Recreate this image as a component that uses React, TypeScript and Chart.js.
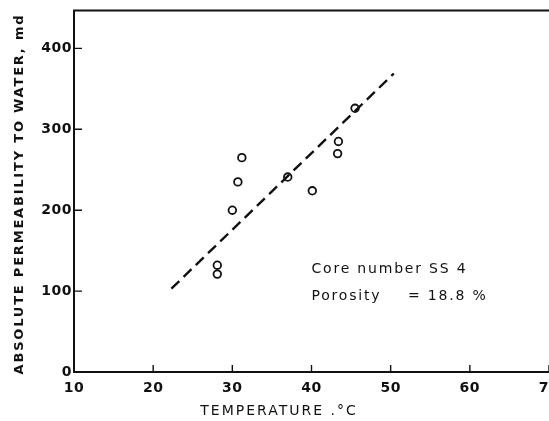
import React, { useEffect, useRef } from 'react';
import { Chart, registerables } from 'chart.js';

Chart.register(...registerables);

// Data
const temperature = [28.1, 28.1, 30.0, 30.7, 31.2, 37.0, 40.1, 43.3, 43.4, 45.5];
const permeability = [132, 121, 200, 235, 265, 241, 224, 270, 285, 326];
const fitTemperature = [22.3, 50.4];
const fitPermeability = [103, 369];
const xTicks = [10, 20, 30, 40, 50, 60, 70];
const yTicks = [0, 100, 200, 300, 400];
const xTitle = 'TEMPERATURE .°C';
const yTitle = 'ABSOLUTE PERMEABILITY TO WATER, md';
const noteCore = 'Core number SS 4';
const notePorosityLabel = 'Porosity';
const notePorosityValue = '= 18.8 %';

const INK = '#111111';
const FONT = '"DejaVu Sans", sans-serif';

const decorPlugin = {
  id: 'decor',
  beforeDraw(chart: any) {
    chart.ctx.letterSpacing = '0.5px';
  },
  afterDraw(chart: any) {
    const ctx = chart.ctx as CanvasRenderingContext2D & { letterSpacing: string };
    const { left, top, bottom } = chart.chartArea;
    const xs = chart.scales.x;
    const ys = chart.scales.y;
    const W = chart.width;
    ctx.save();
    ctx.strokeStyle = INK;
    ctx.lineCap = 'square';
    // frame (left, top, bottom)
    ctx.lineWidth = 2;
    ctx.beginPath();
    ctx.moveTo(W, top);
    ctx.lineTo(left, top);
    ctx.lineTo(left, bottom);
    ctx.lineTo(W, bottom);
    ctx.stroke();
    // inward tick marks
    ctx.lineWidth = 1.4;
    ctx.lineCap = 'butt';
    ctx.beginPath();
    xTicks.forEach((v) => {
      const px = xs.getPixelForValue(v);
      if (px - left < 2) return;
      ctx.moveTo(px, bottom);
      ctx.lineTo(px, bottom - 7);
    });
    yTicks.forEach((v) => {
      const py = ys.getPixelForValue(v);
      if (bottom - py < 2) return;
      ctx.moveTo(left, py);
      ctx.lineTo(left + 8, py);
    });
    ctx.stroke();

    ctx.fillStyle = INK;
    // axis titles
    ctx.textAlign = 'center';
    ctx.textBaseline = 'middle';
    ctx.letterSpacing = '2px';
    ctx.font = `14px ${FONT}`;
    ctx.fillText(xTitle, 279, 411);
    ctx.save();
    ctx.translate(20, 194);
    ctx.rotate(-Math.PI / 2);
    ctx.letterSpacing = '1.8px';
    ctx.font = `bold 13px ${FONT}`;
    ctx.fillText(yTitle, 0, 0);
    ctx.restore();

    // annotation
    ctx.letterSpacing = '1.8px';
    ctx.font = `14px ${FONT}`;
    ctx.textAlign = 'left';
    ctx.fillText(noteCore, xs.getPixelForValue(40.0), ys.getPixelForValue(127));
    ctx.fillText(notePorosityLabel, xs.getPixelForValue(40.0), ys.getPixelForValue(94));
    ctx.fillText(notePorosityValue, xs.getPixelForValue(52.2), ys.getPixelForValue(94));
    ctx.restore();
    ctx.letterSpacing = '0px';
  },
};

export default function App() {
  const ref = useRef<HTMLCanvasElement | null>(null);

  useEffect(() => {
    if (!ref.current) return;
    const points = temperature.map((t, i) => ({ x: t, y: permeability[i] }));
    const fit = fitTemperature.map((t, i) => ({ x: t, y: fitPermeability[i] }));
    const chart = new Chart(ref.current, {
      type: 'scatter',
      data: {
        datasets: [
          {
            type: 'scatter',
            data: points,
            pointRadius: 3.8,
            pointBorderWidth: 1.8,
            borderColor: INK,
            backgroundColor: 'rgba(0,0,0,0)',
            pointStyle: 'circle',
          } as any,
          {
            type: 'line',
            data: fit,
            borderColor: INK,
            borderWidth: 2.4,
            borderDash: [11, 6],
            pointRadius: 0,
            fill: false,
            showLine: true,
          } as any,
        ],
      },
      options: {
        responsive: false,
        animation: false,
        layout: { padding: { top: 10, right: 51, left: 0, bottom: 0 } },
        plugins: { legend: { display: false }, tooltip: { enabled: false } },
        scales: {
          x: {
            type: 'linear',
            min: 10,
            max: 70,
            afterBuildTicks: (s: any) => {
              s.ticks = xTicks.map((v) => ({ value: v }));
            },
            afterFit: (s: any) => {
              s.height = 49;
            },
            grid: { display: false, drawTicks: false },
            border: { display: false },
            ticks: {
              color: INK,
              font: { family: FONT, size: 14, weight: 'bold' },
              padding: 8,
              maxRotation: 0,
              autoSkip: false,
            },
          },
          y: {
            type: 'linear',
            min: 0,
            max: 447,
            afterBuildTicks: (s: any) => {
              s.ticks = yTicks.map((v) => ({ value: v }));
            },
            afterFit: (s: any) => {
              s.width = 74;
            },
            grid: { display: false, drawTicks: false },
            border: { display: false },
            ticks: {
              color: INK,
              font: { family: FONT, size: 14, weight: 'bold' },
              padding: 2,
              autoSkip: false,
            },
          },
        },
      } as any,
      plugins: [decorPlugin],
    });
    return () => chart.destroy();
  }, []);

  return (
    <div
      style={{
        position: 'fixed',
        left: 0,
        top: 0,
        width: 549,
        height: 421,
        overflow: 'hidden',
        background: '#ffffff',
      }}
    >
      <canvas ref={ref} width={600} height={421} style={{ display: 'block' }} />
    </div>
  );
}
